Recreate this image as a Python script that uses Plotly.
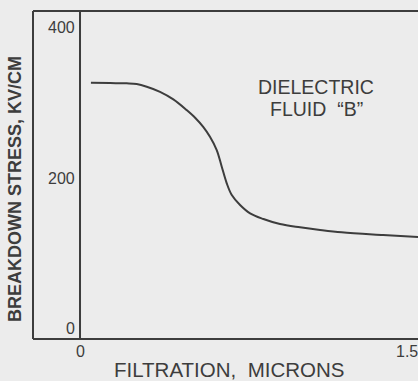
import plotly.graph_objects as go

# Breakdown stress of dielectric fluid "B" versus filtration size
filtration_microns = [0.050, 0.138, 0.214, 0.260, 0.306, 0.367, 0.428, 0.489, 0.530,
                      0.565, 0.596, 0.627, 0.650, 0.673, 0.696, 0.734, 0.780, 0.841,
                      0.917, 1.009, 1.101, 1.200, 1.390, 1.550]
breakdown_kv_cm = [340.6, 340.2, 339.8, 338.9, 335.4, 328.6, 318.5, 304.3, 293.5,
                   282.0, 268.8, 251.2, 229.0, 206.9, 191.4, 178.1, 167.0, 159.5,
                   152.8, 148.4, 144.9, 141.8, 138.2, 135.5]

x_tick_vals = [0, 1.5]
x_tick_text = ["0", "1.5"]
y_tick_vals = [0, 200, 400]
y_tick_text = ["0", "200", "400"]

INK = "#3d3d3d"
PAPER = "#ececec"
FONT = "Liberation Sans, Arial, sans-serif"

# pixel geometry of the plotting frame
W, H = 418, 381
LEFT, TOP, BOTTOM = 33, 11, 339
PLOT_W, PLOT_H = W - LEFT, BOTTOM - TOP


def px_x(p):
    return (p - LEFT) / PLOT_W


def px_y(p):
    return (BOTTOM - p) / PLOT_H


fig = go.Figure()
fig.add_trace(go.Scatter(
    x=filtration_microns, y=breakdown_kv_cm, mode="lines",
    line=dict(color=INK, width=2, shape="spline", smoothing=1.0),
    hoverinfo="skip", showlegend=False,
))

fig.update_layout(
    width=W, height=H,
    margin=dict(l=LEFT, r=0, t=TOP, b=H - BOTTOM),
    paper_bgcolor=PAPER, plot_bgcolor=PAPER,
    font=dict(family=FONT, color=INK),
    xaxis=dict(range=[-0.2156, 1.55], showgrid=False, zeroline=False,
               showline=False, ticks="", showticklabels=False),
    yaxis=dict(range=[0, 436], showgrid=False, zeroline=False,
               showline=False, ticks="", showticklabels=False),
)

# frame: left, top, bottom edges plus the y-axis line at x = 0
frame = dict(color=INK, width=2)
fig.add_shape(type="line", xref="paper", yref="paper", x0=0, x1=0, y0=0, y1=1, line=frame)
fig.add_shape(type="line", xref="paper", yref="paper", x0=0, x1=1, y0=1, y1=1, line=frame)
fig.add_shape(type="line", xref="paper", yref="paper", x0=0, x1=1, y0=0, y1=0, line=frame)
fig.add_shape(type="line", xref="x", yref="paper", x0=0, x1=0, y0=0, y1=1, line=frame)

# y tick labels sit inside the band left of the axis line
for v, t in zip(y_tick_vals, y_tick_text):
    fig.add_annotation(x=0, y=v, xref="x", yref="y", text=t, showarrow=False,
                       xanchor="right", yanchor="bottom", xshift=-3, yshift=0,
                       font=dict(size=16, color=INK))

# x tick labels below the bottom edge
for v, t in zip(x_tick_vals, x_tick_text):
    fig.add_annotation(x=v, y=0, xref="x", yref="paper", text=t, showarrow=False,
                       xanchor="center", yanchor="top", yshift=-2,
                       font=dict(size=16, color=INK))

fig.add_annotation(x=px_x(229), y=px_y(369), xref="paper", yref="paper",
                   text="FILTRATION,  MICRONS", showarrow=False,
                   xanchor="center", yanchor="middle",
                   font=dict(size=20.5, color=INK))
fig.add_annotation(x=px_x(15), y=px_y(189), xref="paper", yref="paper",
                   text="<b>BREAKDOWN STRESS, KV/CM</b>", showarrow=False,
                   textangle=-90, xanchor="center", yanchor="middle",
                   font=dict(size=18, color=INK))
fig.add_annotation(x=px_x(316), y=px_y(87), xref="paper", yref="paper",
                   text="DIELECTRIC", showarrow=False,
                   xanchor="center", yanchor="middle",
                   font=dict(size=19.5, color=INK))
fig.add_annotation(x=px_x(316), y=px_y(109), xref="paper", yref="paper",
                   text="FLUID  “B”", showarrow=False,
                   xanchor="center", yanchor="middle",
                   font=dict(size=19.5, color=INK))

fig.write_html("out.html")
